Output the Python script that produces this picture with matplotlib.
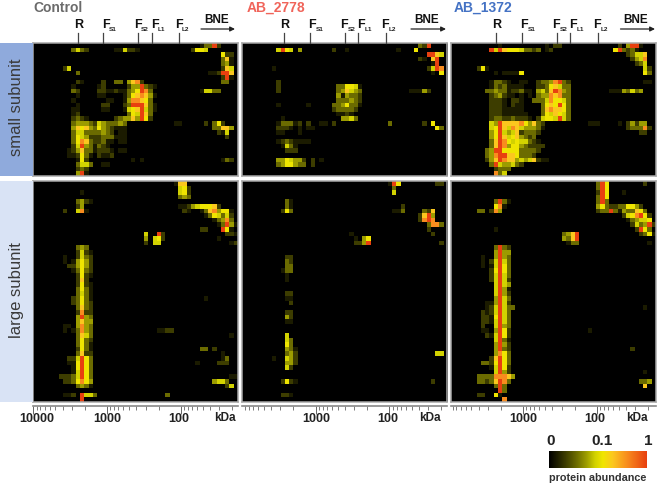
import matplotlib
matplotlib.use("Agg")
import matplotlib.pyplot as plt
import numpy as np
from matplotlib.colors import LinearSegmentedColormap
from matplotlib.patches import Rectangle, FancyArrowPatch
from matplotlib.ticker import LogLocator, NullFormatter

plt.rcParams['font.family'] = ['Liberation Sans', 'DejaVu Sans']
W, H = 660, 487

# abundance levels 0-9 on the colour scale; each row: "start_col:levels ..."
control_small = {
0:"39:13392",1:"9:3532 19:11 21:5221 37:2665",2:"44:622",3:"44:371",4:"44:341",
5:"7:25 44:275",6:"10:3 41:112 44:997",7:"44:291",8:"10:21 16:2 19:33 22:4782 44:33",
9:"9:1 15:12 22:24493 27:21",10:"9:32 15:22 17:1121 21:1 22:34698 27:3 39:1 40:5533",
11:"10:1 15:11 21:1 22:3678 26:741",12:"9:1 17:11 21:1 22:488763",13:"10:1 16:22 21:2 22:39997 27:31",
14:"9:11 16:11 21:1 22:5679 26:531",15:"9:12 22:3659 26:73",16:"9:2321 19:234 22:474 25:962",
17:"9:34443254333 20:43 33:11 40:2 42:362",18:"9:4767436432 19:111 42:337 45:74",
19:"9:35533 14:33432 20:11 43:21 45:5",20:"9:36542 14:22333 19:111 45:2",
21:"9:36873 14:22311 20:11",22:"9:25943 14:13 16:21",23:"8:12473 13:3 14:1222 18:1 20:11",
24:"8:11263 13:1 15:2112",25:"10:162 23:1 25:1 44:132",26:"10:3553 16:11",27:"10:232",28:"10:491",
}
control_large = {
0:"33:177",1:"34:562",2:"11:1 34:562",3:"34:343",4:"10:3421",
5:"10:24 34:11 36:2456667 43:2",6:"7:2 10:581 35:21 39:13784 44:661",7:"40:13653 45:52",
8:"42:13483",9:"43:13 45:941",10:"39:22 44:961",11:"26:5 29:92 45:221",12:"26:4 28:562 43:1",
13:"26:2 28:55 46:12",14:"10:343",15:"10:2521",16:"7:1 10:2532",17:"7:1 9:14642",18:"8:224642",
19:"9:13632",20:"10:2621",21:"10:272",22:"10:2621",23:"10:3631",24:"10:3531",25:"9:23631 40:1",
26:"9:23632",27:"10:3732",28:"10:2822",29:"10:4943",30:"10:4744",31:"7:11 10:4843",
32:"7:1 9:13843 29:1122",33:"10:3753 46:1",34:"10:3632",35:"10:3631",36:"10:2631 39:33 42:2",
37:"10:3722 44:1",38:"8:225963 44:13",39:"8:11 10:6963 38:1 43:222",40:"9:16963",41:"9:15963",
42:"6:2223 10:5963 46:11",43:"7:2 8:23 10:6864 42:4553",44:"10:3431 45:25",
46:"7:112 11:9553 31:3",47:"11:9",
}
ab2778_small = {
0:"41:329",1:"8:5965 13:4 21:2 24:1 36:1 40:6",2:"43:9975",3:"41:21 44:79",4:"44:19",
5:"7:1 43:2598",6:"44:1 46:6",8:"8:2",9:"8:2 22:33665 27:1",
10:"8:2 22:34754 27:3 39:111 42:42",11:"22:41433 27:2",12:"22:333432",13:"8:1 15:1 21:3346331",
14:"21:233332",15:"22:1121",16:"9:1 23:4453",17:"8:1333 12:12 15:2 18:11 21:2 34:3 42:2 44:6",
18:"8:2221 13:1 15:11 45:63",19:"8:11 13:1",21:"8:12321111",22:"9:1531",23:"10:222",
25:"8:44654 13:42 16:2 18:1",26:"8:34664 13:33 16:2",
}
ab2778_large = {
0:"34:196 45:22",1:"35:3",2:"35:5",4:"10:31",5:"10:31 37:2",6:"9:263 35:113 42:327",
7:"41:2794",8:"41:2898",9:"43:3883",10:"43:2",11:"25:1 44:2",12:"26:1 28:46",13:"26:22 28:49 46:2",
16:"10:22",17:"10:32",18:"10:33",19:"9:133",20:"10:1",21:"10:1",24:"10:22",25:"10:11",26:"11:2",
28:"10:22",29:"10:42",30:"10:11",33:"10:5",34:"10:53",35:"10:63",36:"10:431",37:"10:342 45:55",
38:"7:1 10:542",39:"10:442",40:"10:52",43:"9:2621 44:2",46:"9:221",
}
ab1372_small = {
0:"22:1 24:22 39:2 41:4 42:991 11:1",1:"9:95976665 17:332 20:3 22:12 38:693231",2:"41:23 43:557",
3:"42:2458",4:"43:235",5:"6:261 45:52",6:"10:1 12:11116 45:63",
8:"9:1332 13:1 16:11 20:23348932 45:11",9:"9:132311 15:11 20:22367533",
10:"8:3343312231 18:1 20:45379843 37:111 40:43534",11:"9:234211 16:1 18:1 20:34487833",
12:"9:2221 14:221 19:333586653",13:"9:2221 14:211 21:36769 26:63",14:"9:22211111 21:3787763",
15:"9:222111111 21:3657653",16:"9:2332232221 20:256659 26:53",
17:"9:5497777 16:86473 21:2 32:111 39:1 41:24244",18:"9:569758 15:754443 20:31 41:23338 46:2",
19:"9:46954572 17:3332 44:22",20:"9:469756 15:74 17:323",21:"9:3798656 16:55321",
22:"9:37984664 17:32222",23:"8:3499666 15:633332",24:"8:34899 13:776 16:3332",
25:"8:2479877 15:4 16:5457 20:211",26:"9:3954 13:4532",27:"10:2333",28:"10:835",
}
ab1372_large = {
0:"34:396 45:2",1:"34:396",2:"34:296 40:1",3:"34:396",4:"10:3931 34:393",
5:"10:681 34:4632 38:23366 43:42",6:"6:33 9:284 34:2339 38:31 40:43376 45:3",7:"40:2568965 46:2",
8:"41:134556",9:"42:25345 46:92",10:"10:1 43:2963",11:"26:3479 44:2361",12:"26:4379",13:"27:133 46:1",
14:"10:3932",15:"10:4944",16:"7:1 10:4943",17:"7:1 9:25953",18:"7:1 9:15963",19:"9:26963",
20:"9:25953",21:"9:25952",22:"10:5954",23:"10:5941",24:"10:5942",25:"10:4953",26:"8:114952",
27:"8:1259533 45:1",28:"7:212 10:5953",29:"7:221 10:6953",30:"7:221 10:5953",31:"7:2 10:5943",
32:"7:11 10:4962 32:1",33:"8:21 10:5962",34:"10:5931",35:"10:4942",36:"10:4932 42:2",37:"10:4863",
38:"9:27963",39:"7:332 10:6963",40:"9:15962",41:"10:5942 45:1",42:"6:3333 10:88874",
43:"6:3323 10:7983 44:334",44:"10:393 45:7",45:"11:93",46:"6:22 10:61",47:"12:8",
}
n_cols = 48
small_rows, large_rows = 29, 48

# colour scale position of each abundance level
level_pos = np.array([0, .08, .17, .28, .38, .47, .55, .65, .8, 1.0])
level_col = ["#000000", "#1c1c00", "#3e3e00", "#6c6c00", "#9c9c00", "#d2d200",
             "#f0e600", "#fcc81e", "#f88c1e", "#e8400f"]
cmap = LinearSegmentedColormap.from_list("abund", list(zip(level_pos, level_col)), N=256)

def expand(rows, n_rows):
    grid = np.zeros((n_rows, n_cols))
    for r, spec in rows.items():
        for part in spec.split():
            c, levels = part.split(":")
            for i, ch in enumerate(levels):
                if int(c) + i < n_cols:
                    grid[r, int(c) + i] = level_pos[int(ch)]
    return grid

fig = plt.figure(figsize=(W / 100, H / 100), dpi=100, facecolor="white")

def px_axes(x0, y0, x1, y1):
    return fig.add_axes([x0 / W, 1 - y1 / H, (x1 - x0) / W, (y1 - y0) / H])

def ftext(x, y, s, **kw):
    return fig.text(x / W, 1 - y / H, s, **kw)

panels = [
    dict(x0=33, x1=238, top=control_small, bottom=control_large, title="Control", color="#6b6b6b",
         tx=33, r=77.5, k=107, bne=217, arrow=(201, 235), kda=224.7, l100=179),
    dict(x0=242, x1=447, top=ab2778_small, bottom=ab2778_large, title="AB_2778", color="#f0645a",
         tx=247, r=284, k=315.7, bne=426.5, arrow=(411, 446), kda=430, l100=388),
    dict(x0=451, x1=656, top=ab1372_small, bottom=ab1372_large, title="AB_1372", color="#4472c4",
         tx=454, r=496, k=523, bne=636, arrow=(620.5, 655), kda=637, l100=594.7),
]
# tick offset from R, subscript, offset of the F from the tick
markers = [(25.5, "S1", -1), (60.5, "S2", -4), (74, "L1", -0.5), (101.5, "L2", -4)]

for p in panels:
    x0, x1, rx, k = p["x0"], p["x1"], p["r"], p["k"]
    for (y0, y1, rows, nr) in [(43, 176, p["top"], small_rows), (181, 402, p["bottom"], large_rows)]:
        ax = px_axes(x0, y0, x1, y1)
        ax.imshow(expand(rows, nr), cmap=cmap, vmin=0, vmax=1, aspect="auto", interpolation="nearest")
        ax.set_xticks([]); ax.set_yticks([])
        for s in ax.spines.values():
            s.set_color("#a8a8a8"); s.set_linewidth(1.1)
    ftext(p["tx"], 0.8, p["title"], color=p["color"], fontsize=10, fontweight="bold", va="top", ha="left")
    fig.add_artist(plt.Line2D([rx / W, rx / W], [1 - 33 / H, 1 - 42.5 / H], color="#444444", lw=0.9))
    ftext(rx + 1, 25, "R", fontsize=9, fontweight="bold", ha="center", va="center", color="#111111")
    for off, sub, foff in markers:
        mx = rx + off
        fig.add_artist(plt.Line2D([mx / W, mx / W], [1 - 33 / H, 1 - 42.5 / H], color="#444444", lw=0.9))
        ftext(mx + foff, 25, "F", fontsize=9, fontweight="bold", ha="left", va="center", color="#111111")
        ftext(mx + foff + 7, 29.5, sub, fontsize=4.6, fontweight="bold", ha="left", va="center", color="#222222")
    ftext(p["bne"], 20, "BNE", fontsize=8.5, fontweight="bold", ha="center", va="center", color="#111111")
    fig.add_artist(FancyArrowPatch(
        (p["arrow"][0] / W, 1 - 29 / H), (p["arrow"][1] / W, 1 - 29 / H), transform=fig.transFigure,
        arrowstyle="-|>", mutation_scale=7, lw=0.9, color="#222222", shrinkA=0, shrinkB=0))
    # kDa log axis below the panels
    lax = px_axes(x0, 404.5, x1, 405.5)
    lax.patch.set_alpha(0)
    decade = 73.8
    left = 10 ** (3 + (k - x0) / decade)
    right = 10 ** (3 - (x1 - k) / decade)
    lax.set_xscale("log")
    lax.set_xlim(left, right)
    lax.set_yticks([])
    for n, s in lax.spines.items():
        s.set_visible(n == "bottom")
        s.set_color("#888888"); s.set_linewidth(1.2)
    lax.xaxis.set_major_locator(LogLocator(base=10, numticks=6))
    lax.xaxis.set_minor_locator(LogLocator(base=10, subs=np.arange(2, 10), numticks=6))
    lax.xaxis.set_major_formatter(NullFormatter())
    lax.xaxis.set_minor_formatter(NullFormatter())
    lax.tick_params(axis="x", which="major", length=5.5, width=0.7, color="#666666")
    lax.tick_params(axis="x", which="minor", length=3, width=0.6, color="#666666")
    labels = [(k + 0.6, "1000"), (p["l100"], "100")]
    if x0 == 33:
        labels.append((36.7, "10000"))
    for lx, s in labels:
        ftext(lx, 419, s, fontsize=9, fontweight="bold", ha="center", va="center", color="#222222")
    ftext(p["kda"], 417.7, "kDa", fontsize=8.5, fontweight="bold", ha="center", va="center", color="#222222")

# side labels
fig.add_artist(Rectangle((0, 1 - 176 / H), 32.5 / W, 133 / H, transform=fig.transFigure, color="#8faadc", lw=0))
fig.add_artist(Rectangle((0, 1 - 402 / H), 32.5 / W, 221 / H, transform=fig.transFigure, color="#d9e3f5", lw=0))
ftext(16.5, 107.5, "small subunit", rotation=90, fontsize=12, ha="center", va="center", color="#3a3a3a")
ftext(16.5, 290.5, "large subunit", rotation=90, fontsize=12, ha="center", va="center", color="#3a3a3a")

# colour scale
cax = px_axes(549, 451, 647, 468)
cax.imshow(np.linspace(0, 1, 256)[None, :], cmap=cmap, aspect="auto", vmin=0, vmax=1)
cax.axis("off")
for lx, s in [(551, "0"), (602, "0.1"), (648, "1")]:
    ftext(lx, 441, s, fontsize=11, fontweight="bold", ha="center", va="center", color="#222222")
ftext(598, 478, "protein abundance", fontsize=7.8, fontweight="bold", ha="center", va="center", color="#333333")

fig.savefig("out.png", dpi=100)
